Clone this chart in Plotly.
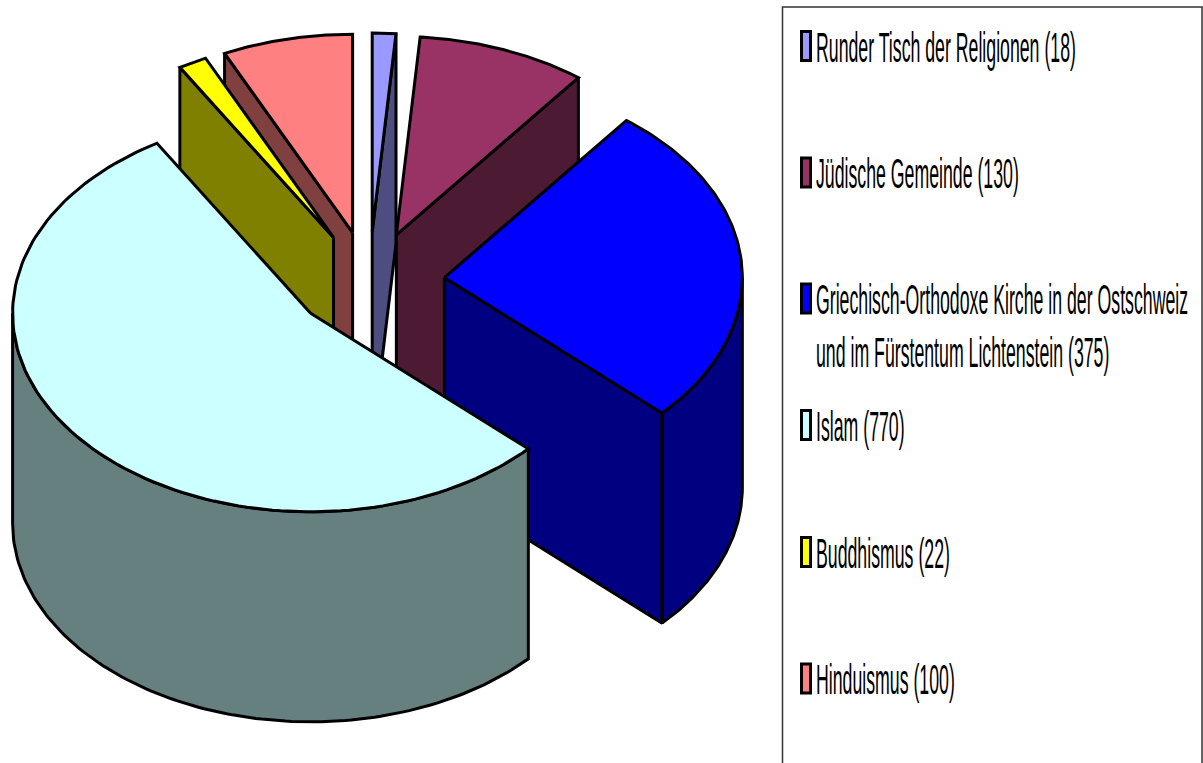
import numpy as np
import plotly.graph_objects as go

categories = ["Runder Tisch der Religionen", "Jüdische Gemeinde",
              "Griechisch-Orthodoxe Kirche in der Ostschweiz<br>und im Fürstentum Lichtenstein",
              "Islam", "Buddhismus", "Hinduismus"]
values = [18, 130, 375, 770, 22, 100]
top_colors = ["#9999FF", "#993366", "#0000FF", "#CCFFFF", "#FFFF00", "#FF8080"]
side_colors = ["#4D4D80", "#4D1A33", "#000080", "#668080", "#808000", "#804040"]

CX, CY, RX, RY, DEPTH, EXPLODE = 369.2, 281.7, 298, 198.5, 210, 0.253
W, H = 1203, 763
LW = 3

total = sum(values)
edges = np.concatenate([[0], np.cumsum(values)]) / total * 2 * np.pi


def arc(c, a, b, n=120):
    t = np.linspace(a, b, n)
    return c[0] + RX * np.sin(t), c[1] - RY * np.cos(t)


fig = go.Figure()


def poly(xs, ys, color):
    fig.add_trace(go.Scatter(x=list(xs) + [xs[0]], y=list(ys) + [ys[0]], mode="lines", fill="toself",
                             fillcolor=color, line=dict(color="black", width=LW), hoverinfo="skip",
                             showlegend=False))


centers = []
for i in range(len(values)):
    mid = (edges[i] + edges[i + 1]) / 2
    centers.append((CX + EXPLODE * RX * np.sin(mid), CY - EXPLODE * RY * np.cos(mid)))


def radial_wall(i, ang):
    c = centers[i]
    px, py = c[0] + RX * np.sin(ang), c[1] - RY * np.cos(ang)
    poly([c[0], px, px, c[0]], [c[1], py, py + DEPTH, c[1] + DEPTH], side_colors[i])


def outer_wall(i, a, b):
    x, y = arc(centers[i], a, b)
    poly(np.concatenate([x, x[::-1]]), np.concatenate([y, y[::-1] + DEPTH]), side_colors[i])


def top(i):
    c = centers[i]
    x, y = arc(c, edges[i], edges[i + 1])
    poly(np.concatenate([[c[0]], x]), np.concatenate([[c[1]], y]), top_colors[i])


# painter's order, back to front
radial_wall(5, edges[5]); top(5)
radial_wall(4, edges[4]); top(4)
radial_wall(0, edges[1]); top(0)
radial_wall(1, edges[2]); top(1)
radial_wall(2, edges[3]); outer_wall(2, np.pi / 2, edges[3]); top(2)
outer_wall(3, edges[3], 3 * np.pi / 2); top(3)

# legend
shapes = [dict(type="rect", x0=782.5, x1=1202, y0=7, y1=790, line=dict(color="#333333", width=1.5), fillcolor="white", layer="below")]
row_y = [46, 172.5, 298.5, 425, 552, 678.5]
TEXT_DY = 5
tx, ty, tt = [], [], []
for i, name in enumerate(categories):
    shapes.append(dict(type="rect", x0=801.5, x1=810.5, y0=row_y[i] - 14.5, y1=row_y[i] + 14.5,
                       fillcolor=top_colors[i], line=dict(color="black", width=3)))
    lines = (name + f" ({values[i]})").split("<br>")
    for j, line in enumerate(lines):
        tx.append(816)
        ty.append(row_y[i] + TEXT_DY + j * 53)
        tt.append(line)

fig.add_trace(go.Scatter(x=tx, y=ty, text=tt, mode="text", textposition="middle right",
                         textfont=dict(family="Liberation Sans", size=43, color="black"),
                         hoverinfo="skip", showlegend=False))

fig.update_layout(width=W, height=H, margin=dict(l=0, r=0, t=0, b=0), paper_bgcolor="white", plot_bgcolor="white",
                  shapes=shapes, showlegend=False,
                  xaxis=dict(range=[0, W], visible=False, fixedrange=True),
                  yaxis=dict(range=[H, 0], visible=False, fixedrange=True))

squeeze = """
document.body.style.margin = '0';
document.documentElement.style.overflow = 'hidden';
document.querySelectorAll('.textpoint text').forEach(function (t) {
  var x = t.getAttribute('x') || 0;
  t.setAttribute('transform', 'translate(' + x + ' 0) scale(0.412 1) translate(' + (-x) + ' 0)');
});
"""
fig.write_html("out.html", post_script=squeeze, config={"displayModeBar": False})
